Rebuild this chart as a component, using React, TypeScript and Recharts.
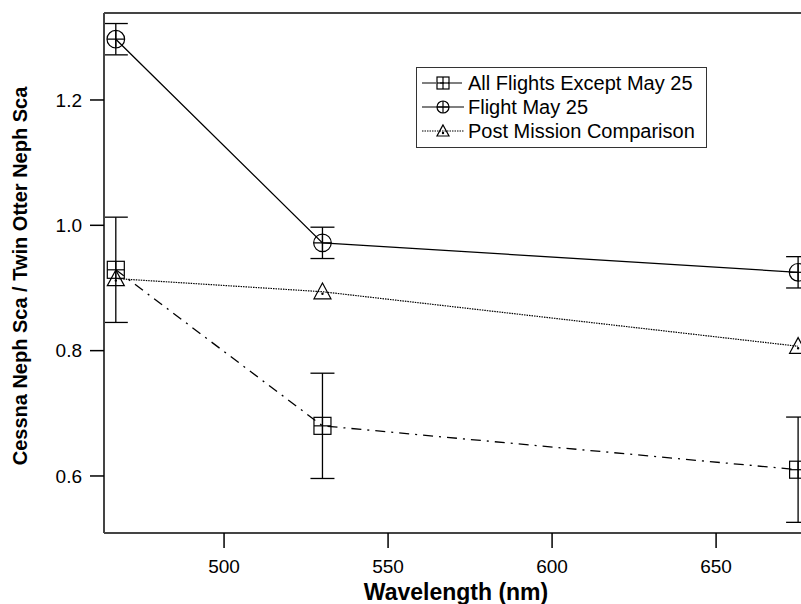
import React from "react"
import {
  LineChart,
  Line,
  XAxis,
  YAxis,
  ErrorBar,
  ReferenceLine,
} from "recharts"

// values
const wavelengths = [467, 530, 675]
const allFlights = [0.929, 0.68, 0.61]
const allFlightsErr = [0.084, 0.084, 0.084]
const flightMay25 = [1.297, 0.972, 0.925]
const flightMay25Err = [0.025, 0.025, 0.025]
const postMission = [0.915, 0.894, 0.807]

const xTicks = [500, 550, 600, 650]
const yTicks = [0.6, 0.8, 1.0, 1.2]
const xDomain: [number, number] = [463.4, 680]
const yDomain: [number, number] = [0.509, 1.3388]

const data = wavelengths.map((wl, i) => ({
  wl,
  all: allFlights[i],
  allErr: allFlightsErr[i],
  may: flightMay25[i],
  mayErr: flightMay25Err[i],
  post: postMission[i],
}))

const FONT = '"Liberation Sans", Arial, Helvetica, sans-serif'
const AXIS = "#444"

// marker shapes
const SquarePlus = (props: any) => {
  const { cx, cy, size = 8.5 } = props
  if (cx == null || cy == null) return null
  const s = size
  return (
    <g key={`sq-${cx}`} stroke="#000" strokeWidth={1.2} fill="none">
      <rect x={cx - s} y={cy - s} width={2 * s} height={2 * s} />
      <line x1={cx - s} y1={cy} x2={cx + s} y2={cy} />
      <line x1={cx} y1={cy - s} x2={cx} y2={cy + s} />
    </g>
  )
}

const CirclePlus = (props: any) => {
  const { cx, cy, size = 8.8 } = props
  if (cx == null || cy == null) return null
  const r = size
  return (
    <g key={`ci-${cx}`} stroke="#000" strokeWidth={1.2} fill="none">
      <circle cx={cx} cy={cy} r={r} />
      <line x1={cx - r} y1={cy} x2={cx + r} y2={cy} />
      <line x1={cx} y1={cy - r} x2={cx} y2={cy + r} />
    </g>
  )
}

const TriangleDot = (props: any) => {
  const { cx, cy, size = 8.5 } = props
  if (cx == null || cy == null) return null
  const w = size
  const h = size * 1.85
  return (
    <g key={`tr-${cx}`} stroke="#000" strokeWidth={1.2} fill="none">
      <polygon
        points={`${cx},${cy - h * 0.55} ${cx - w},${cy + h * 0.45} ${cx + w},${cy + h * 0.45}`}
      />
      <circle cx={cx} cy={cy + 2} r={0.6} fill="#000" />
    </g>
  )
}

const legendRows = [
  { label: "All Flights Except May 25", dash: "14 4 4 4", mark: SquarePlus },
  { label: "Flight May 25", dash: undefined, mark: CirclePlus },
  { label: "Post Mission Comparison", dash: "1.5 1", mark: TriangleDot },
]

const LegendBox = () => (
  <div
    style={{
      position: "absolute",
      left: 416,
      top: 67,
      width: 285,
      height: 76,
      border: "1.5px solid #333",
      background: "#fff",
      padding: "3px 0 0 4px",
      fontFamily: FONT,
      fontSize: 20,
      color: "#000",
      lineHeight: "24px",
    }}
  >
    {legendRows.map((r) => (
      <div key={r.label} style={{ display: "flex", alignItems: "center", height: 24 }}>
        <svg width={44} height={24} style={{ marginRight: 3 }}>
          <line
            x1={1}
            y1={12}
            x2={43}
            y2={12}
            stroke="#000"
            strokeWidth={1.2}
            strokeDasharray={r.dash}
          />
          {r.mark({ cx: 22, cy: 12, size: 6 })}
        </svg>
        <span>{r.label}</span>
      </div>
    ))}
  </div>
)

export default function App() {
  return (
    <div
      style={{
        position: "absolute",
        left: 0,
        top: 0,
        width: 801,
        height: 604,
        overflow: "hidden",
        background: "#fff",
      }}
    >
      <LineChart
        width={820}
        height={604}
        data={data}
        margin={{ top: 13, right: 5.5, left: 0, bottom: 0 }}
      >
        <XAxis
          dataKey="wl"
          type="number"
          domain={xDomain}
          ticks={xTicks}
          allowDataOverflow
          height={71}
          axisLine={{ stroke: AXIS, strokeWidth: 2 }}
          tickLine={{ stroke: "#000", strokeWidth: 1.5 }}
          tickSize={15}
          tickMargin={12}
          tick={{ fill: "#000", fontSize: 19, fontFamily: FONT }}
          label={{
            content: () => (
              <text
                x={456}
                y={600}
                textAnchor="middle"
                fontFamily={FONT}
                fontSize={23}
                fontWeight="bold"
                fill="#000"
              >
                Wavelength (nm)
              </text>
            ),
          }}
        />
        <YAxis
          type="number"
          domain={yDomain}
          ticks={yTicks}
          allowDataOverflow
          width={104}
          axisLine={{ stroke: AXIS, strokeWidth: 2 }}
          tickLine={{ stroke: "#000", strokeWidth: 1.5 }}
          tickSize={14}
          tickMargin={8}
          tickFormatter={(v: number) => v.toFixed(1)}
          tick={{ fill: "#000", fontSize: 19, fontFamily: FONT }}
          label={{
            content: () => (
              <text
                x={27}
                y={276}
                transform="rotate(-90 27 276)"
                textAnchor="middle"
                fontFamily={FONT}
                fontSize={20}
                fontWeight="bold"
                fill="#000"
              >
                Cessna Neph Sca / Twin Otter Neph Sca
              </text>
            ),
          }}
        />
        {/* top frame */}
        <ReferenceLine y={yDomain[1]} stroke={AXIS} strokeWidth={2} />

        <Line
          dataKey="post"
          stroke="#000"
          strokeWidth={1.2}
          strokeDasharray="1.5 1"
          dot={<TriangleDot />}
          activeDot={false}
          isAnimationActive={false}
        />
        <Line
          dataKey="all"
          stroke="#000"
          strokeWidth={1.3}
          strokeDasharray="10 6 2 6"
          dot={<SquarePlus />}
          activeDot={false}
          isAnimationActive={false}
        >
          <ErrorBar dataKey="allErr" width={12} stroke="#000" strokeWidth={1.3} />
        </Line>
        <Line
          dataKey="may"
          stroke="#000"
          strokeWidth={1.3}
          dot={<CirclePlus />}
          activeDot={false}
          isAnimationActive={false}
        >
          <ErrorBar dataKey="mayErr" width={12} stroke="#000" strokeWidth={1.3} />
        </Line>
      </LineChart>
      <LegendBox />
    </div>
  )
}
